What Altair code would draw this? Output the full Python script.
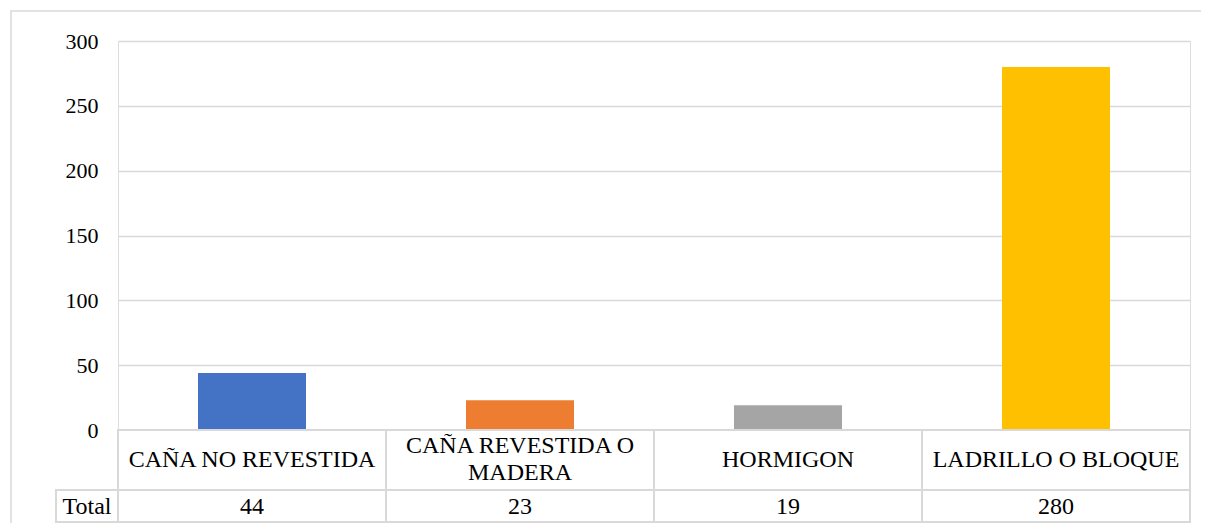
import altair as alt
import pandas as pd

categories = ["CAÑA NO REVESTIDA", "CAÑA REVESTIDA O MADERA", "HORMIGON", "LADRILLO O BLOQUE"]
header_labels = ["CAÑA NO REVESTIDA", "CAÑA REVESTIDA O\nMADERA", "HORMIGON", "LADRILLO O BLOQUE"]
values = [44, 23, 19, 280]
colors = ["#4472C4", "#ED7D31", "#A5A5A5", "#FFC000"]
row_label = ["Total"]
y_ticks = [0, 50, 100, 150, 200, 250, 300]

FONT = "'Liberation Serif', 'Times New Roman', Times, serif"
FS_AX = 22
FS = 24
GRID = "#d9d9d9"

df = pd.DataFrame({"cat": categories, "head": header_labels, "val": values})
lab = pd.DataFrame({"lab": row_label})

W, H = 1072, 389
xs = alt.X("cat:N", sort=categories, axis=None,
           scale=alt.Scale(paddingInner=0, paddingOuter=0))
xt = alt.X("cat:N", sort=categories, axis=None, bandPosition=0.5)

base = alt.Chart(df)

border = alt.Chart(lab).mark_rect(fillOpacity=0, stroke=GRID, strokeWidth=1.5).encode(
    x=alt.value(-107), x2=alt.value(1095), y=alt.value(-30), y2=alt.value(495))

bars = base.mark_bar(width=alt.RelativeBandSize(0.403)).encode(
    x=xs,
    y=alt.Y("val:Q", scale=alt.Scale(domain=[0, 300], nice=False),
            axis=alt.Axis(values=y_ticks, title=None, domain=False, ticks=False,
                          grid=True, gridColor=GRID, gridWidth=1.5,
                          labelFont=FONT, labelFontSize=FS_AX, labelColor="#000000",
                          labelPadding=20)),
    color=alt.Color("cat:N", scale=alt.Scale(domain=categories, range=colors), legend=None),
)

head_cells = base.mark_rect(fill="white", stroke=GRID, strokeWidth=2).encode(
    x=xs, y=alt.value(389), y2=alt.value(449))
tot_cells = base.mark_rect(fill="white", stroke=GRID, strokeWidth=2).encode(
    x=xs, y=alt.value(449), y2=alt.value(481))
lab_cell = alt.Chart(lab).mark_rect(fill="white", stroke=GRID, strokeWidth=2).encode(
    x=alt.value(-62), x2=alt.value(0), y=alt.value(449), y2=alt.value(481))

txt = dict(font=FONT, fontSize=FS, color="#000000", baseline="middle")
head_text1 = base.transform_filter("indexof(datum.head, '\\n') < 0").mark_text(**txt).encode(
    x=xt, y=alt.value(419), text="head:N")
head_text2 = base.transform_filter("indexof(datum.head, '\\n') >= 0").mark_text(
    lineBreak="\n", lineHeight=27, **txt).encode(
    x=xt, y=alt.value(405), text="head:N")
tot_text = base.mark_text(**txt).encode(x=xt, y=alt.value(466), text="val:Q")
lab_text = alt.Chart(lab).mark_text(**txt).encode(
    x=alt.value(-31), y=alt.value(466), text="lab:N")

chart = alt.layer(border, bars, head_cells, tot_cells, lab_cell,
                  head_text1, head_text2, tot_text, lab_text).properties(
    width=W, height=H,
    autosize=alt.AutoSizeParams(type="none"),
    padding={"left": 110, "top": 33, "right": 11, "bottom": 93},
).configure_view(stroke=None).configure(background="white")

chart.save("out.html", embed_options={"renderer": "svg", "actions": False})
